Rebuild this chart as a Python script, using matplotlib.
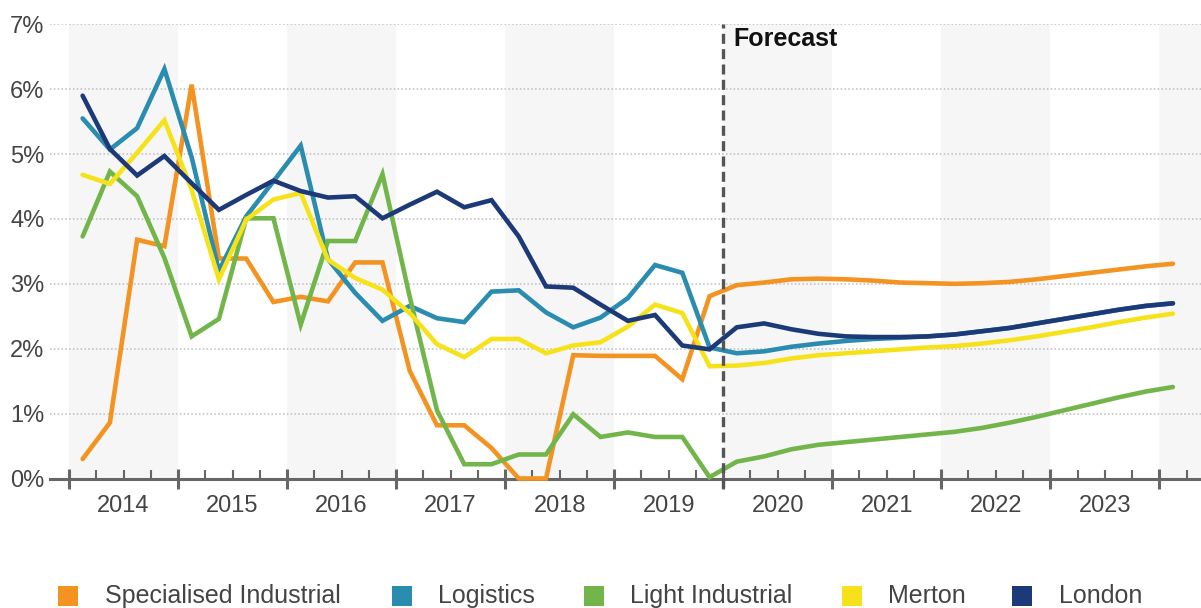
import matplotlib
matplotlib.use("Agg")
import matplotlib.pyplot as plt
from matplotlib.patches import Rectangle
import numpy as np

plt.rcParams["font.family"] = ["Liberation Sans", "DejaVu Sans"]

# ---------------- data (quarterly, 2014 Q1 .. 2024 Q1) ----------------
start_year = 2014
year_labels = ["2014", "2015", "2016", "2017", "2018", "2019", "2020", "2021", "2022", "2023"]
forecast_start = 2020
y_tick_labels = ["0%", "1%", "2%", "3%", "4%", "5%", "6%", "7%"]

series_names = ["Specialised Industrial", "Logistics", "Light Industrial", "Merton", "London"]
series_colors = ["#F39322", "#2A8CAE", "#72B64B", "#F6E21B", "#1D3A78"]

specialised_industrial = [
    0.30, 0.86, 3.68, 3.58, 6.07, 3.39, 3.39, 2.72, 2.80, 2.73, 3.33, 3.33,
    1.66, 0.82, 0.82, 0.47, 0.00, 0.00, 1.90, 1.89, 1.89, 1.89, 1.53, 2.81,
    2.98, 3.02, 3.07, 3.08, 3.07, 3.05, 3.02, 3.01, 3.00, 3.01, 3.03, 3.07,
    3.12, 3.17, 3.22, 3.27, 3.31]
logistics = [
    5.55, 5.07, 5.40, 6.31, 4.95, 3.20, 4.04, 4.58, 5.13, 3.38, 2.86, 2.43,
    2.66, 2.47, 2.41, 2.88, 2.90, 2.56, 2.33, 2.48, 2.78, 3.29, 3.17, 2.02,
    1.93, 1.96, 2.03, 2.08, 2.12, 2.15, 2.17, 2.19, 2.22, 2.27, 2.32, 2.39,
    2.46, 2.53, 2.60, 2.66, 2.70]
light_industrial = [
    3.73, 4.73, 4.35, 3.40, 2.19, 2.46, 4.01, 4.01, 2.37, 3.66, 3.66, 4.69,
    2.80, 1.05, 0.22, 0.22, 0.37, 0.37, 0.99, 0.64, 0.71, 0.64, 0.64, 0.02,
    0.26, 0.34, 0.45, 0.52, 0.56, 0.60, 0.64, 0.68, 0.72, 0.78, 0.86, 0.95,
    1.05, 1.15, 1.25, 1.34, 1.41]
merton = [
    4.68, 4.54, 5.02, 5.52, 4.45, 3.07, 3.99, 4.30, 4.40, 3.37, 3.09, 2.91,
    2.55, 2.07, 1.87, 2.15, 2.15, 1.93, 2.05, 2.10, 2.34, 2.68, 2.55, 1.73,
    1.74, 1.78, 1.85, 1.90, 1.93, 1.96, 1.99, 2.02, 2.04, 2.08, 2.13, 2.19,
    2.26, 2.33, 2.41, 2.48, 2.54]
london = [
    5.90, 5.08, 4.67, 4.97, 4.55, 4.14, 4.37, 4.59, 4.43, 4.33, 4.35, 4.01,
    4.22, 4.42, 4.18, 4.29, 3.73, 2.96, 2.94, 2.68, 2.43, 2.52, 2.05, 1.99,
    2.33, 2.39, 2.30, 2.23, 2.19, 2.18, 2.18, 2.19, 2.22, 2.27, 2.32, 2.39,
    2.46, 2.53, 2.60, 2.66, 2.70]

all_series = [specialised_industrial, logistics, light_industrial, merton, london]

# ---------------- figure ----------------
W, H = 1201, 608
fig = plt.figure(figsize=(W / 100, H / 100), dpi=100)
ax_left, ax_right = 50 / W, 1.0
ax_bottom, ax_top = 1 - 478.5 / H, 1 - 24.3 / H
ax = fig.add_axes([ax_left, ax_bottom, ax_right - ax_left, ax_top - ax_bottom])

x_min = start_year - 19 / 109.03
x_max = start_year + 1132 / 109.03

# alternating year bands
for yr in range(start_year, 2025, 2):
    ax.axvspan(yr, yr + 1, ymin=0, ymax=1, color="#F6F6F6", zorder=0, lw=0)

# dotted horizontal grid
for v in range(1, 8):
    ax.axhline(v, color="#BDBDBD", lw=1.1, ls=(0, (1, 1.5)), zorder=1)

# lines
n = len(london)
xq = start_year + (np.arange(n) + 0.5) / 4
for vals, col in zip(all_series, series_colors):
    ax.plot(xq, vals, color=col, lw=3.3, solid_joinstyle="miter",
            solid_capstyle="round", zorder=3, clip_on=False)

# forecast divider
ax.plot([forecast_start, forecast_start], [-0.15, 7], color="#555555", lw=2.4,
        ls=(0, (3, 1.6)), zorder=4, clip_on=False)
ax.text(forecast_start + 10 / 109.03, 6.78, "Forecast", fontsize=18,
        fontweight="bold", color="#111111", ha="left", va="center", zorder=5)

# spines
for s in ["left", "right", "top"]:
    ax.spines[s].set_visible(False)
ax.spines["bottom"].set_color("#666666")
ax.spines["bottom"].set_linewidth(2.2)
ax.spines["bottom"].set_zorder(2)

# y ticks
ax.set_yticks(range(0, 8))
ax.set_yticklabels(y_tick_labels)
ax.tick_params(axis="y", length=0, pad=4, labelsize=17, labelcolor="#444444")

# x ticks: year boundaries (major) and quarter boundaries (minor)
ax.set_xticks(range(start_year, 2025))
ax.set_xticklabels([])
ax.set_xticks([start_year + q / 4 for q in range(0, 46) if q % 4 != 0], minor=True)
ax.tick_params(axis="x", which="major", direction="inout", length=14.5, width=2.2,
               color="#666666")
ax.tick_params(axis="x", which="minor", direction="in", length=6.5, width=1.5,
               color="#666666")

# year labels
for i, lab in enumerate(year_labels):
    ax.annotate(lab, xy=(start_year + i + 0.5, 0), xycoords=("data", "axes fraction"),
                xytext=(0, -20), textcoords="offset points", ha="center",
                va="center", fontsize=17, color="#444444", annotation_clip=False)

ax.set_xlim(x_min, x_max)
ax.set_ylim(0, 7)

# legend (manual)
sq_x = [58, 392, 584, 842, 1012]
txt_x = [105, 438, 630, 888, 1059]
cy = 596
for name, col, sx, tx in zip(series_names, series_colors, sq_x, txt_x):
    fig.patches.append(Rectangle((sx / W, 1 - (cy + 10) / H), 20 / W, 20 / H,
                                 transform=fig.transFigure, color=col, lw=0))
    fig.text(tx / W, 1 - cy / H, name, fontsize=18, color="#444444",
             ha="left", va="center")

fig.savefig("out.png", dpi=100)
